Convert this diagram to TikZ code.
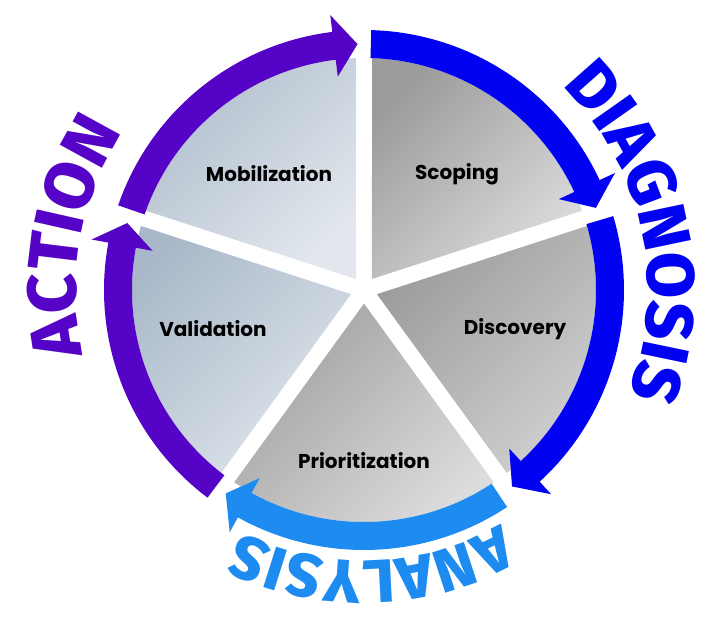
\documentclass[tikz,border=0pt]{standalone}
\usepackage{fontspec}
\setmainfont{Poppins}
\newfontfamily\bigfont{Fira Sans ExtraBold}
\usetikzlibrary{decorations.text}
\definecolor{actpurple}{HTML}{5503C6}
\definecolor{diagblue}{HTML}{0202F2}
\definecolor{anablue}{HTML}{1E8BF0}
\definecolor{grayA}{HTML}{9C9C9C}
\definecolor{grayB}{HTML}{DCDCDC}
\definecolor{slateA}{HTML}{A8B8C8}
\definecolor{slateB}{HTML}{E2E7ED}
\tikzset{
  segshade/.style 2 args={top color=#1, bottom color=#2, shading angle=45},
  seglabel/.style={font=\bfseries\fontsize{20}{24}\selectfont, text=black},
}
\newcommand\ringarrow[4]{%
  \fill[#1] (#2:232pt) arc[start angle=#2, end angle=#3, radius=232pt]
    -- (#3:215pt) -- (#4:246pt) -- (#3:277pt) -- (#3:260pt)
    arc[start angle=#3, end angle=#2, radius=260pt] -- cycle;}
\begin{document}
\begin{tikzpicture}
\useasboundingbox (-364pt,-333pt) rectangle (357pt,290pt);
% segments
\shade[segshade={grayA}{grayB}] (54:13.6pt) -- (19.98:232pt) arc[start angle=19.98, end angle=88.02, radius=232pt] -- cycle;
\shade[segshade={grayA}{grayB!95!black}] (-18:13.6pt) -- (-52.02:232pt) arc[start angle=-52.02, end angle=16.02, radius=232pt] -- cycle;
\shade[segshade={grayA!95!white}{grayB}] (-90:13.6pt) -- (-124.02:232pt) arc[start angle=-124.02, end angle=-55.98, radius=232pt] -- cycle;
\shade[segshade={slateA}{slateB!95!slateA}] (198:13.6pt) -- (163.98:232pt) arc[start angle=163.98, end angle=232.02, radius=232pt] -- cycle;
\shade[segshade={slateA!90!white}{slateB}] (126:13.6pt) -- (91.98:232pt) arc[start angle=91.98, end angle=160.02, radius=232pt] -- cycle;
% ring arrows
\ringarrow{actpurple}{161}{97}{91.5}
\ringarrow{actpurple}{233}{169.5}{164.2}
\ringarrow{diagblue}{88.4}{25}{19.5}
\ringarrow{diagblue}{16.5}{-47.5}{-53}
\ringarrow{anablue}{-56.6}{-119}{-124.2}
% labels
\node[seglabel] (scoping) at (93pt,116pt) {Scoping};
\node[seglabel] (discovery) at (151pt,-39pt) {Discovery};
\node[seglabel] (prior) at (0pt,-171pt) {Prioritization};
\node[seglabel] (valid) at (-151pt,-39pt) {Validation};
\node[seglabel] (mobil) at (-95pt,116pt) {Mobilization};
% curved words
\path[decorate, decoration={text along path, text align=center,
  text={|\bigfont\fontsize{67}{67}\selectfont\color{diagblue}|DIAGNOSIS}}]
  (52.2:284pt) arc[start angle=52.2, end angle=-27.8, radius=284pt];
\path[decorate, decoration={text along path, text align=center,
  text={|\bigfont\fontsize{69}{69}\selectfont\color{actpurple}|ACTION}}]
  (209.8:288pt) arc[start angle=209.8, end angle=129.8, radius=288pt];
\path[decorate, decoration={text along path, text align=center,
  text={|\bigfont\fontsize{61}{61}\selectfont\color{anablue}|ANALYSIS}}]
  (-48.4:271pt) arc[start angle=-48.4, end angle=-128.4, radius=271pt];
\end{tikzpicture}
\end{document}
